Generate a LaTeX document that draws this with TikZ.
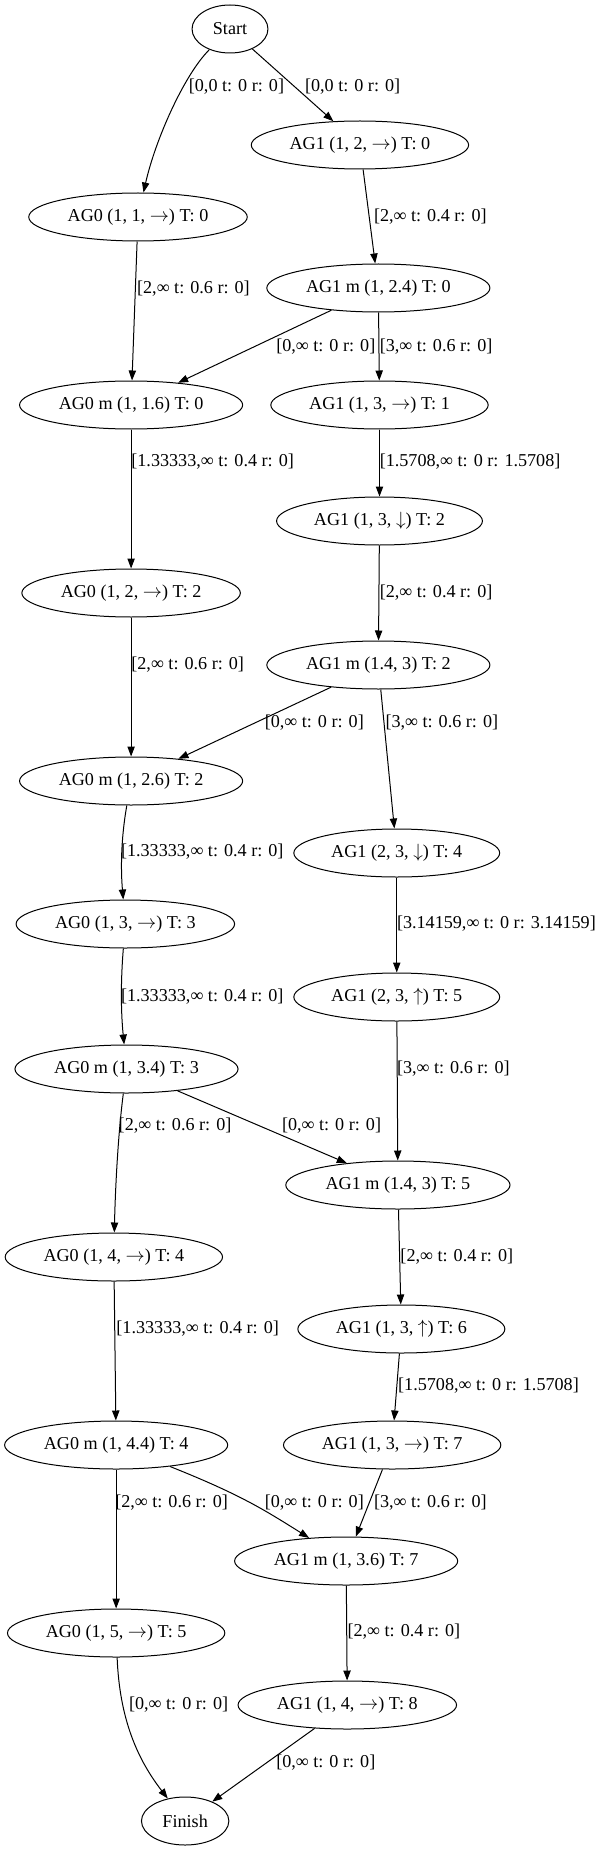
\documentclass[tikz,border=0pt]{standalone}
\usepackage{fontspec}
\setmainfont{Liberation Serif}
\usetikzlibrary{shapes.geometric,arrows.meta}
\newcommand{\ra}{$\rightarrow$}
\newcommand{\da}{$\downarrow$}
\newcommand{\ua}{$\uparrow$}
\begin{document}
\begin{tikzpicture}[x=0.8625pt,y=-0.75pt,
  st/.style={draw, ellipse, inner sep=0pt, minimum height=36pt, line width=0.75pt,
     minimum width=#1*0.8625pt, font=\fontsize{13.6pt}{16pt}\selectfont},
  lab/.style={inner sep=0pt, anchor=west, font=\fontsize{13.6pt}{16pt}\selectfont},
  edge/.style={-{Triangle[length=7.5pt,width=5.5pt]}, line width=0.75pt}]
\useasboundingbox (0,0) rectangle (520.87,1851);
% nodes
\node[st=66]  (start) at (200,29) {Start};
\node[st=189] (ag1a)  at (313,145) {AG1 (1, 2, \ra) T: 0};
\node[st=190] (ag0a)  at (120,217) {AG0 (1, 1, \ra) T: 0};
\node[st=194] (ag1m1) at (329,288) {AG1 m (1, 2.4) T: 0};
\node[st=194] (ag0m1) at (114,405) {AG0 m (1, 1.6) T: 0};
\node[st=189] (ag1b)  at (330,405) {AG1 (1, 3, \ra) T: 1};
\node[st=179] (ag1c)  at (330,521) {AG1 (1, 3, \da) T: 2};
\node[st=190] (ag0b)  at (114,593) {AG0 (1, 2, \ra) T: 2};
\node[st=194] (ag1m2) at (329,665) {AG1 m (1.4, 3) T: 2};
\node[st=194] (ag0m2) at (114,781) {AG0 m (1, 2.6) T: 2};
\node[st=179] (ag1d)  at (345,853) {AG1 (2, 3, \da) T: 4};
\node[st=190] (ag0c)  at (109,924) {AG0 (1, 3, \ra) T: 3};
\node[st=179] (ag1e)  at (345,997) {AG1 (2, 3, \ua) T: 5};
\node[st=194] (ag0m3) at (110,1069) {AG0 m (1, 3.4) T: 3};
\node[st=195] (ag1m3) at (346,1185) {AG1 m (1.4, 3) T: 5};
\node[st=189] (ag0d)  at (99,1257) {AG0 (1, 4, \ra) T: 4};
\node[st=180] (ag1f)  at (349,1329) {AG1 (1, 3, \ua) T: 6};
\node[st=194] (ag0m4) at (101,1445) {AG0 m (1, 4.4) T: 4};
\node[st=189] (ag1g)  at (341,1445) {AG1 (1, 3, \ra) T: 7};
\node[st=194] (ag1m4) at (301,1561) {AG1 m (1, 3.6) T: 7};
\node[st=189] (ag0e)  at (101,1633) {AG0 (1, 5, \ra) T: 5};
\node[st=190] (ag1h)  at (302,1705) {AG1 (1, 4, \ra) T: 8};
\node[st=76]  (finish) at (161,1821) {Finish};
% edges
\draw[edge] (start) .. controls (160,75) and (135,140) .. (ag0a);
\draw[edge] (start) -- (ag1a);
\draw[edge] (ag1a) -- (ag1m1);
\draw[edge] (ag0a) -- (ag0m1);
\draw[edge] (ag1m1) -- (ag0m1);
\draw[edge] (ag1m1) -- (ag1b);
\draw[edge] (ag0m1) -- (ag0b);
\draw[edge] (ag1b) -- (ag1c);
\draw[edge] (ag1c) -- (ag1m2);
\draw[edge] (ag0b) -- (ag0m2);
\draw[edge] (ag1m2) -- (ag0m2);
\draw[edge] (ag1m2) -- (ag1d);
\draw[edge] (ag0m2) .. controls (105,840) and (105,870) .. (ag0c);
\draw[edge] (ag1d) -- (ag1e);
\draw[edge] (ag0c) .. controls (105,980) and (105,1010) .. (ag0m3);
\draw[edge] (ag1e) -- (ag1m3);
\draw[edge] (ag0m3) .. controls (102,1140) and (100,1200) .. (ag0d);
\draw[edge] (ag0m3) -- (ag1m3);
\draw[edge] (ag1m3) -- (ag1f);
\draw[edge] (ag0d) -- (ag0m4);
\draw[edge] (ag1f) -- (ag1g);
\draw[edge] (ag0m4) -- (ag0e);
\draw[edge] (ag0m4) .. controls (210,1495) and (230,1510) .. (ag1m4);
\draw[edge] (ag1g) -- (ag1m4);
\draw[edge] (ag1m4) -- (ag1h);
\draw[edge] (ag0e) .. controls (104,1720) and (120,1760) .. (finish);
\draw[edge] (ag1h) -- (finish);
% edge labels
\node[lab] (l1)  at (164,87)   {[0,0 t: 0 r: 0]};
\node[lab] (l2)  at (265,87)   {[0,0 t: 0 r: 0]};
\node[lab] (l3)  at (325,217)  {[2,∞ t: 0.4 r: 0]};
\node[lab] (l4)  at (119,289)  {[2,∞ t: 0.6 r: 0]};
\node[lab] (l5)  at (240,347)  {[0,∞ t: 0 r: 0]};
\node[lab] (l6)  at (330,347)  {[3,∞ t: 0.6 r: 0]};
\node[lab] (l7)  at (114,462)  {[1.33333,∞ t: 0.4 r: 0]};
\node[lab] (l8)  at (330,462)  {[1.5708,∞ t: 0 r: 1.5708]};
\node[lab] (l9)  at (330,593)  {[2,∞ t: 0.4 r: 0]};
\node[lab] (l10) at (114,665)  {[2,∞ t: 0.6 r: 0]};
\node[lab] (l11) at (230,723)  {[0,∞ t: 0 r: 0]};
\node[lab] (l12) at (335,723)  {[3,∞ t: 0.6 r: 0]};
\node[lab] (l13) at (105,852)  {[1.33333,∞ t: 0.4 r: 0]};
\node[lab] (l14) at (345,924)  {[3.14159,∞ t: 0 r: 3.14159]};
\node[lab] (l15) at (105,997)  {[1.33333,∞ t: 0.4 r: 0]};
\node[lab] (l16) at (345,1069) {[3,∞ t: 0.6 r: 0]};
\node[lab] (l17) at (103,1126) {[2,∞ t: 0.6 r: 0]};
\node[lab] (l18) at (245,1126) {[0,∞ t: 0 r: 0]};
\node[lab] (l19) at (348,1257) {[2,∞ t: 0.4 r: 0]};
\node[lab] (l20) at (101,1329) {[1.33333,∞ t: 0.4 r: 0]};
\node[lab] (l21) at (346,1386) {[1.5708,∞ t: 0 r: 1.5708]};
\node[lab] (l22) at (100,1503) {[2,∞ t: 0.6 r: 0]};
\node[lab] (l23) at (230,1503) {[0,∞ t: 0 r: 0]};
\node[lab] (l24) at (325,1503) {[3,∞ t: 0.6 r: 0]};
\node[lab] (l25) at (302,1632) {[2,∞ t: 0.4 r: 0]};
\node[lab] (l26) at (112,1705) {[0,∞ t: 0 r: 0]};
\node[lab] (l27) at (240,1763) {[0,∞ t: 0 r: 0]};
\end{tikzpicture}
\end{document}
